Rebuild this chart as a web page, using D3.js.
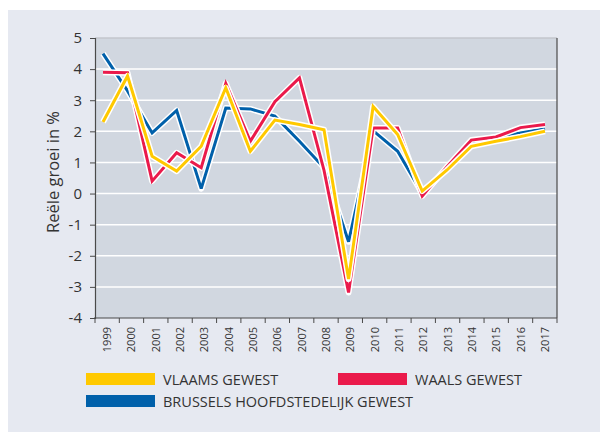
<!DOCTYPE html>
<html>
<head>
<meta charset="utf-8">
<script src="https://cdn.jsdelivr.net/npm/d3@7"></script>
<style>
  body { margin: 0; background: #fff; }
  svg { display: block; font-family: "Open Sans", sans-serif; }
</style>
</head>
<body>
<div id="chart"></div>
<script>
// chart data
const years = ['1999','2000','2001','2002','2003','2004','2005','2006','2007','2008',
               '2009','2010','2011','2012','2013','2014','2015','2016','2017'];
const vlaams    = [2.3, 3.78, 1.2, 0.72, 1.52, 3.4, 1.36, 2.36, 2.22, 2.05, -2.75, 2.8, 1.9, 0.08, 0.75, 1.52, 1.68, 1.83, 2.0];
const waals     = [3.9, 3.88, 0.4, 1.31, 0.83, 3.54, 1.68, 2.95, 3.72, 0.75, -3.18, 2.11, 2.11, -0.08, 0.85, 1.72, 1.82, 2.12, 2.22];
const brussel   = [4.5, 3.3, 1.95, 2.67, 0.16, 2.75, 2.72, 2.49, 1.68, 0.83, -1.55, 2.02, 1.36, 0.0, 0.8, 1.66, 1.83, 1.95, 2.08];
const yTicks = [-4, -3, -2, -1, 0, 1, 2, 3, 4, 5];

const series = [
    { name: 'BRUSSELS HOOFDSTEDELIJK GEWEST', values: brussel, color: '#0060aa' },
    { name: 'WAALS GEWEST', values: waals, color: '#ea1a4b' },
    { name: 'VLAAMS GEWEST', values: vlaams, color: '#ffc900' }
];

const width = 600, height = 432;
const plot = { left: 95, right: 557, top: 38, bottom: 318 };

const svg = d3.select('#chart').append('svg')
    .attr('width', width)
    .attr('height', height);

// background panel
svg.append('rect')
    .attr('x', 8).attr('y', 10)
    .attr('width', width - 8).attr('height', height - 10)
    .attr('fill', '#e6e9f1');

svg.append('rect')
    .attr('x', plot.left).attr('y', plot.top)
    .attr('width', plot.right - plot.left).attr('height', plot.bottom - plot.top)
    .attr('fill', '#d1d7e0');

const y = d3.scaleLinear().domain([-4, 5]).range([plot.bottom, plot.top]);
const xBand = d3.scaleBand().domain(years).range([plot.left, plot.right]);
const xPoint = d3.scalePoint().domain(years).range([103, 545]);

// grid
svg.append('g')
    .selectAll('line')
    .data(yTicks.filter(d => d > -4 && d < 5))
    .join('line')
    .attr('x1', plot.left).attr('x2', plot.right)
    .attr('y1', d => y(d)).attr('y2', d => y(d))
    .attr('stroke', '#fff')
    .attr('stroke-width', 1.5);

// top + right border
svg.append('line')
    .attr('x1', plot.left).attr('x2', plot.right)
    .attr('y1', plot.top).attr('y2', plot.top)
    .attr('stroke', '#c3c6cc').attr('stroke-width', 1.5);
svg.append('line')
    .attr('x1', plot.right).attr('x2', plot.right)
    .attr('y1', plot.top).attr('y2', plot.bottom)
    .attr('stroke', '#4a4a4a').attr('stroke-width', 1.2);

// y axis
const yAxis = svg.append('g')
    .attr('transform', `translate(${plot.left},0)`)
    .call(d3.axisLeft(y).tickValues(yTicks).tickSize(5).tickPadding(8).tickFormat(d => String(d)));
yAxis.select('.domain').attr('stroke', '#4a4a4a').attr('stroke-width', 1.2);
yAxis.selectAll('.tick line').attr('stroke', '#4a4a4a');
yAxis.selectAll('text')
    .attr('font-size', 15)
    .attr('fill', '#333')
    .attr('font-family', 'Open Sans, sans-serif');

svg.append('text')
    .attr('transform', `translate(59,${(plot.top + plot.bottom) / 2 - 6}) rotate(-90)`)
    .attr('text-anchor', 'middle')
    .attr('font-size', 16.5)
    .attr('fill', '#333')
    .text('Reële groei in %');

// x axis (ticks on band boundaries)
const xAxis = svg.append('g')
    .attr('transform', `translate(0,${plot.bottom})`);
xAxis.append('line')
    .attr('x1', plot.left - 1).attr('x2', plot.right)
    .attr('stroke', '#4a4a4a').attr('stroke-width', 1.2);
xAxis.selectAll('.tk')
    .data(years.concat(['end']))
    .join('line')
    .attr('class', 'tk')
    .attr('x1', (d, i) => i < years.length ? xBand(d) : plot.right)
    .attr('x2', (d, i) => i < years.length ? xBand(d) : plot.right)
    .attr('y1', 0).attr('y2', 5)
    .attr('stroke', '#4a4a4a');
xAxis.selectAll('text')
    .data(years)
    .join('text')
    .attr('transform', d => `translate(${xBand(d) + xBand.bandwidth() / 2 + 4},9) rotate(-90)`)
    .attr('text-anchor', 'end')
    .attr('font-size', 11)
    .attr('fill', '#333')
    .text(d => d);

// lines with white halo
const line = d3.line()
    .x((d, i) => xPoint(years[i]))
    .y(d => y(d));

series.forEach(s => {
    svg.append('path')
        .datum(s.values)
        .attr('d', line)
        .attr('fill', 'none')
        .attr('stroke', '#fff')
        .attr('stroke-width', 6)
        .attr('stroke-linejoin', 'round');
    svg.append('path')
        .datum(s.values)
        .attr('d', line)
        .attr('fill', 'none')
        .attr('stroke', s.color)
        .attr('stroke-width', 3)
        .attr('stroke-linejoin', 'miter')
        .attr('stroke-miterlimit', 3);
});

// legend
const legendItems = [
    { name: 'VLAAMS GEWEST', color: '#ffc900', x: 86, y: 373 },
    { name: 'WAALS GEWEST', color: '#ea1a4b', x: 338, y: 373 },
    { name: 'BRUSSELS HOOFDSTEDELIJK GEWEST', color: '#0060aa', x: 86, y: 395 }
];
const legend = svg.append('g');
legendItems.forEach(d => {
    legend.append('rect')
        .attr('x', d.x).attr('y', d.y)
        .attr('width', 69).attr('height', 12)
        .attr('fill', d.color);
    legend.append('text')
        .attr('x', d.x + 77).attr('y', d.y + 12)
        .attr('font-size', 14.5)
        .attr('fill', '#333')
        .text(d.name);
});
</script>
</body>
</html>
